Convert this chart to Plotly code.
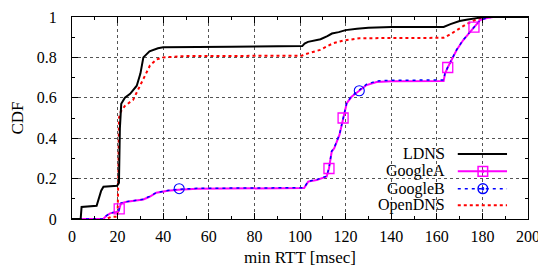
import plotly.graph_objects as go

# ---- data ----
ldns_x = [0, 3.8, 4.2, 10.8, 12.8, 13.8, 19.8, 20.6, 21.0, 21.6, 22.4, 23.2, 25.5, 28.4, 30.0, 31.3, 34.0, 37.7, 40.0, 50, 70, 101.0,
          102.0, 103.5, 106.0, 109.0, 112.0, 114.0, 117.0, 120.0, 125.0, 130.0, 140.0, 163.0, 166.0, 170.0, 173.0, 176.0, 179.0, 182.0, 200]
ldns_y = [0, 0, 0.06, 0.065, 0.14, 0.16, 0.165, 0.18, 0.45, 0.57, 0.585, 0.60, 0.62, 0.66, 0.72, 0.80, 0.83, 0.845, 0.85, 0.852, 0.853, 0.856,
          0.868, 0.877, 0.884, 0.89, 0.905, 0.918, 0.925, 0.935, 0.942, 0.947, 0.95, 0.951, 0.965, 0.98, 0.986, 0.993, 0.997, 1.0, 1.0]

open_x = [0, 15.0, 17.0, 20.0, 20.3, 20.6, 21.3, 23.2, 26.8, 29.0, 31.3, 34.2, 37.1, 40.0, 50, 70, 100.7,
          102.0, 105.0, 108.8, 114.5, 119.0, 126.0, 140.0, 163.0, 166.0, 170.0, 173.0, 176.8, 179.0, 182.0, 200]
open_y = [0, 0, 0.01, 0.012, 0.2, 0.5, 0.53, 0.56, 0.59, 0.64, 0.69, 0.76, 0.79, 0.80, 0.807, 0.808, 0.808,
          0.815, 0.826, 0.837, 0.87, 0.883, 0.895, 0.896, 0.897, 0.915, 0.944, 0.965, 0.985, 0.993, 1.0, 1.0]

ga_x = [0, 13.7, 15.0, 16.7, 19.0, 20.5, 21.0, 21.5, 24.0, 28.0, 31.3, 34.0, 37.0, 42.0, 46.6, 55, 70, 101.8,
        103.6, 107.3, 111.7, 112.7, 113.9, 115.0, 117.3, 118.9, 120.5, 122.6, 126.0, 129.2, 133.6, 140, 163.0,
        163.6, 164.8, 166.5, 168.7, 171.6, 174.6, 176.3, 179.0, 182.0, 184.7, 200]
ga_y = [0, 0, 0.015, 0.028, 0.033, 0.04, 0.06, 0.078, 0.085, 0.09, 0.097, 0.11, 0.13, 0.14, 0.145, 0.15, 0.152, 0.153,
        0.185, 0.193, 0.21, 0.25, 0.333, 0.35, 0.416, 0.50, 0.573, 0.605, 0.635, 0.663, 0.678, 0.682, 0.683,
        0.72, 0.75, 0.79, 0.837, 0.886, 0.927, 0.949, 0.985, 0.995, 1.0, 1.0]

gb_x = [0, 13.7, 15.0, 16.7, 19.0, 20.5, 21.0, 21.5, 24.0, 28.0, 31.3, 34.0, 37.0, 42.0, 46.6, 55, 70, 101.8,
        103.6, 107.3, 111.7, 112.7, 113.9, 115.0, 117.3, 118.9, 120.5, 122.6, 126.0, 129.2, 133.6, 140, 163.0,
        163.6, 164.8, 166.5, 168.7, 171.6, 174.6, 176.3, 179.0, 182.0, 184.7, 200]
gb_y = [0, 0, 0.016, 0.029, 0.034, 0.041, 0.062, 0.079, 0.086, 0.091, 0.098, 0.112, 0.131, 0.141, 0.147, 0.152, 0.154, 0.155,
        0.187, 0.195, 0.212, 0.252, 0.336, 0.353, 0.418, 0.502, 0.576, 0.608, 0.638, 0.667, 0.683, 0.687, 0.688,
        0.722, 0.752, 0.792, 0.838, 0.887, 0.928, 0.95, 0.985, 0.995, 1.0, 1.0]

ga_mark_x = [20.7, 112.7, 118.9, 164.8, 176.3]
ga_mark_y = [0.05, 0.25, 0.50, 0.75, 0.95]
gb_mark_x = [47.0, 126.0]
gb_mark_y = [0.15, 0.635]

series_names = ["LDNS", "GoogleA", "GoogleB", "OpenDNS"]
x_ticks = list(range(0, 201, 20))
y_ticks = [0, 0.2, 0.4, 0.6, 0.8, 1.0]

FONT = "Liberation Serif"
BLACK, MAG, BLUE, RED = "#000000", "#ff00ff", "#0000ff", "#ff0000"

fig = go.Figure()
fig.add_trace(go.Scatter(x=open_x, y=open_y, mode="lines", name="OpenDNS",
                         line=dict(color=RED, width=2, dash="dot"), showlegend=False))
fig.add_trace(go.Scatter(x=ga_x, y=ga_y, mode="lines", name="GoogleA",
                         line=dict(color=MAG, width=2), showlegend=False))
fig.add_trace(go.Scatter(x=gb_x, y=gb_y, mode="lines", name="GoogleB",
                         line=dict(color=BLUE, width=1.5, dash="3px,4px"), showlegend=False))
fig.add_trace(go.Scatter(x=ldns_x, y=ldns_y, mode="lines", name="LDNS",
                         line=dict(color=BLACK, width=2), showlegend=False))
fig.add_trace(go.Scatter(x=ga_mark_x, y=ga_mark_y, mode="markers", name="GoogleA",
                         marker=dict(symbol="square-open", size=10, color=MAG, line=dict(width=1.3, color=MAG)),
                         showlegend=False))
fig.add_trace(go.Scatter(x=gb_mark_x, y=gb_mark_y, mode="markers", name="GoogleB",
                         marker=dict(symbol="circle-open", size=10, color=BLUE, line=dict(width=1.1, color=BLUE)),
                         showlegend=False))

# ---- manual gnuplot-style key (text on the left, sample on the right) ----
shapes = [dict(type="rect", xref="paper", yref="paper", x0=0.668, x1=0.976, y0=0.0, y1=0.366,
               fillcolor="white", line=dict(width=0), layer="between")]
annotations = []
rows_y = [0.322, 0.236, 0.150, 0.068]
styles = [dict(color=BLACK, width=2), dict(color=MAG, width=2),
          dict(color=BLUE, width=1.5, dash="3px,4px"), dict(color=RED, width=2, dash="dot")]
for name, ry, st in zip(series_names, rows_y, styles):
    annotations.append(dict(text=name, xref="paper", yref="paper", x=0.822, y=ry, xanchor="right",
                            yanchor="middle", showarrow=False, font=dict(family=FONT, size=16, color="black")))
    shapes.append(dict(type="line", xref="paper", yref="paper", x0=0.846, x1=0.954, y0=ry, y1=ry,
                       line=st, layer="above"))
# sample markers
sq_w, sq_h = 0.0105, 0.024
shapes.append(dict(type="rect", xref="paper", yref="paper", x0=0.901 - sq_w, x1=0.901 + sq_w,
                   y0=rows_y[1] - sq_h, y1=rows_y[1] + sq_h, line=dict(color=MAG, width=1.5),
                   fillcolor="rgba(0,0,0,0)", layer="above"))
shapes.append(dict(type="circle", xref="paper", yref="paper", x0=0.901 - sq_w, x1=0.901 + sq_w,
                   y0=rows_y[2] - sq_h, y1=rows_y[2] + sq_h, line=dict(color=BLUE, width=1.5),
                   fillcolor="rgba(0,0,0,0)", layer="above"))
for ry, c in ((rows_y[1], MAG), (rows_y[2], BLUE)):
    shapes.append(dict(type="circle", xref="paper", yref="paper", x0=0.899, x1=0.903,
                       y0=ry - 0.008, y1=ry + 0.008, line=dict(color=c, width=1), fillcolor=c, layer="above"))

axis_common = dict(showline=True, linecolor="black", linewidth=1, mirror="allticks",
                   ticks="inside", ticklen=6, tickcolor="black", tickwidth=1,
                   showgrid=True, gridcolor="#555555", gridwidth=0.8, griddash="dot",
                   zeroline=False, automargin=False,
                   tickfont=dict(family=FONT, size=16, color="black"))

# the page body adds an 8px offset, so the figure is 8px smaller on each side
fig.update_layout(
    width=538, height=259,
    margin=dict(l=64, r=18, t=9, b=48),
    paper_bgcolor="white", plot_bgcolor="white",
    font=dict(family=FONT, size=17, color="black"),
    xaxis=dict(range=[0, 200], tickvals=x_ticks, ticklabelstandoff=3,
               title=dict(text="min RTT [msec]", standoff=6, font=dict(family=FONT, size=17)),
               minor=dict(dtick=10, ticks="inside", ticklen=3, tickcolor="black", showgrid=False),
               **axis_common),
    yaxis=dict(range=[0, 1], tickvals=y_ticks, ticklabelstandoff=11,
               title=dict(text="CDF", standoff=8, font=dict(family=FONT, size=17)),
               minor=dict(dtick=0.1, ticks="inside", ticklen=3, tickcolor="black", showgrid=False),
               **axis_common),
    shapes=shapes, annotations=annotations, showlegend=False,
)

fig.write_html("out.html")
